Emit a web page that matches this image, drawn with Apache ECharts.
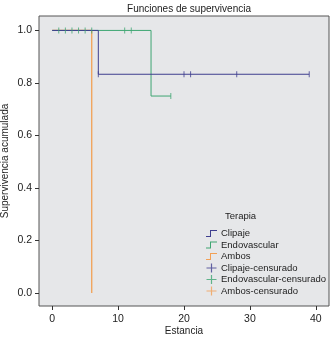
<!DOCTYPE html>
<html>
<head>
<meta charset="utf-8">
<script src="https://cdn.jsdelivr.net/npm/echarts@6/dist/echarts.min.js"></script>
<style>html,body{margin:0;padding:0;background:#fff}#c{width:331px;height:340px}</style>
</head>
<body>
<div id="c"></div>
<script>
// Kaplan-Meier step curves: [time, survival]
const clipaje = [[0, 1.0], [7, 0.833], [39, 0.833]];
const endovascular = [[0, 1.0], [15, 0.75], [18, 0.75]];
const ambos = [[0, 1.0], [6, 0.0]];
// censored observations
const clipajeCens = [[7, 0.833], [20, 0.833], [21, 0.833], [28, 0.833], [39, 0.833]];
const endovascularCens = [[1, 1.0], [2, 1.0], [3, 1.0], [4, 1.0], [5, 1.0], [6, 1.0], [11, 1.0], [12, 1.0], [18, 0.75]];
const ambosCens = [];
const xTicks = [0, 10, 20, 30, 40];
const yTicks = [0, 0.2, 0.4, 0.6, 0.8, 1.0];

const BLUE = '#3f3f8f', GREEN = '#3ea672', ORANGE = '#f2a055';
const FONT = 'Liberation Sans';
const stepIcon = 'path://M0,7H4V1H11V2H5V8H0Z';
const crossIcon = 'path://M4.4,0H5.6V9H4.4ZM0,3.9H10V5.1H0Z';

const chart = echarts.init(document.getElementById('c'));
chart.setOption({
  animation: false,
  textStyle: {fontFamily: FONT},
  title: [
    {text: 'Funciones de supervivencia', left: 184, top: -1, textAlign: 'center',
     textStyle: {fontSize: 10, fontWeight: 'normal', color: '#222', fontFamily: FONT}},
    {text: 'Terapia', left: 220, top: 206,
     textStyle: {fontSize: 9.5, fontWeight: 'normal', color: '#222', fontFamily: FONT}}
  ],
  grid: {left: 39, right: 2, top: 16, bottom: 34, show: true, outerBoundsMode: 'none',
         containLabel: false,
         backgroundColor: '#e6e7e9', borderColor: '#555', borderWidth: 1},
  legend: {
    orient: 'vertical', left: 201, top: 223, itemGap: 0.5,
    itemWidth: 11, itemHeight: 9,
    textStyle: {fontSize: 9.5, lineHeight: 11, color: '#222', fontFamily: FONT, padding: [0,0,0,-1]},
    data: [
      {name: 'Clipaje', icon: stepIcon, itemStyle: {color: BLUE}},
      {name: 'Endovascular', icon: stepIcon, itemStyle: {color: GREEN}},
      {name: 'Ambos', icon: stepIcon, itemStyle: {color: ORANGE}},
      {name: 'Clipaje-censurado', icon: crossIcon, itemStyle: {color: BLUE}},
      {name: 'Endovascular-censurado', icon: crossIcon, itemStyle: {color: GREEN}},
      {name: 'Ambos-censurado', icon: crossIcon, itemStyle: {color: ORANGE}}
    ]
  },
  xAxis: {
    type: 'value', min: -2, max: 42,
    name: 'Estancia', nameLocation: 'middle', nameGap: 20, nameMoveOverlap: false,
    nameTextStyle: {fontSize: 10, color: '#222'},
    axisLine: {show: false, onZero: false},
    axisTick: {show: true, length: 4, lineStyle: {color: '#333'}, customValues: xTicks},
    axisLabel: {fontSize: 10.5, color: '#222', margin: 8, customValues: xTicks},
    splitLine: {show: false}
  },
  yAxis: {
    type: 'value', min: -0.05, max: 1.055,
    name: 'Supervivencia acumulada', nameLocation: 'middle', nameGap: 29,
    nameMoveOverlap: false,
    nameTextStyle: {fontSize: 10, color: '#222'},
    axisLine: {show: false, onZero: false},
    axisTick: {show: true, length: 4, lineStyle: {color: '#333'}, customValues: yTicks},
    axisLabel: {fontSize: 10.5, color: '#222', margin: 7, customValues: yTicks,
                formatter: v => v.toFixed(1)},
    splitLine: {show: false}
  },
  series: [
    {name: 'Clipaje', type: 'line', step: 'end', data: clipaje, symbol: 'none',
     color: BLUE, lineStyle: {width: 1, color: BLUE}, z: 3},
    {name: 'Endovascular', type: 'line', step: 'end', data: endovascular, symbol: 'none',
     color: GREEN, lineStyle: {width: 1, color: GREEN}, z: 2},
    {name: 'Ambos', type: 'line', step: 'end', data: ambos, symbol: 'none',
     color: ORANGE, lineStyle: {width: 1.3, color: ORANGE}, z: 1},
    {name: 'Clipaje-censurado', type: 'scatter', data: clipajeCens, symbol: 'rect',
     symbolSize: [1, 6], color: BLUE, itemStyle: {color: BLUE}, z: 4},
    {name: 'Endovascular-censurado', type: 'scatter', data: endovascularCens, symbol: 'rect',
     symbolSize: [1, 6], color: GREEN, itemStyle: {color: GREEN}, z: 4},
    {name: 'Ambos-censurado', type: 'scatter', data: ambosCens, symbol: 'rect',
     symbolSize: [1, 6], color: ORANGE, itemStyle: {color: ORANGE}, z: 4}
  ]
});
</script>
</body>
</html>
